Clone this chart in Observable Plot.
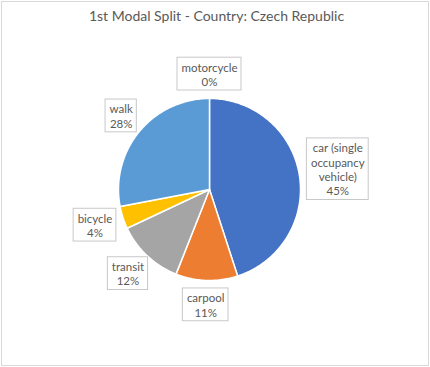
<!DOCTYPE html>
<html>
<head>
<meta charset="utf-8">
<script src="https://cdn.jsdelivr.net/npm/d3@7"></script>
<script src="https://cdn.jsdelivr.net/npm/@observablehq/plot@0.6"></script>
<style>
  html, body { margin: 0; padding: 0; background: #fff; }
  #wrap { position: relative; width: 430px; height: 367px; }
  #border { position: absolute; left: 1px; top: 1px; width: 428px; height: 365px; box-sizing: border-box; border: 1px solid #d9d9d9; pointer-events: none; }
  #chart { position: absolute; left: 0; top: 0; }
</style>
</head>
<body>
<div id="wrap"><div id="chart"></div><div id="border"></div></div>
<script>
const title = "1st Modal Split - Country: Czech Republic";
const categories = ["car (single occupancy vehicle)", "carpool", "transit", "bicycle", "walk", "motorcycle"];
const shares = [45, 11, 12, 4, 28, 0];
const colors = ["#4472C4", "#ED7D31", "#A5A5A5", "#FFC000", "#5B9BD5", "#70AD47"];

const W = 430, H = 367;
const cx = 209, cy = 189, R = 91;
const font = "Lato";
const fs = 11.5, lh = 14.4;
const textColor = "#595959";

function wrap(s, max) {
  const words = s.split(" "); const lines = []; let cur = "";
  for (const w of words) {
    if (!cur) cur = w;
    else if ((cur + " " + w).length <= max) cur += " " + w;
    else { lines.push(cur); cur = w; }
  }
  if (cur) lines.push(cur);
  return lines;
}
const ctx = document.createElement("canvas").getContext("2d");
ctx.font = `${fs}px ${font}`;

const arcs = d3.pie().sort(null).value(d => d.v)(categories.map((c, i) => ({c, v: shares[i]})));
const pt = (a, r) => [cx + r * Math.sin(a), cy - r * Math.cos(a)];

const slicePts = [];
arcs.forEach(a => {
  if (a.endAngle - a.startAngle <= 0) return;
  const [x0, y0] = pt(0, 0);
  slicePts.push({k: a.data.c, x: x0, y: y0});
  const n = Math.max(2, Math.ceil((a.endAngle - a.startAngle) / (Math.PI / 180)));
  for (let j = 0; j <= n; j++) {
    const t = a.startAngle + (a.endAngle - a.startAngle) * j / n;
    const [x, y] = pt(t, R);
    slicePts.push({k: a.data.c, x, y});
  }
  slicePts.push({k: a.data.c, x: x0, y: y0});
});

const padX = 4, padY = 2, gap = 8;
const labels = arcs.map(a => {
  const lines = wrap(a.data.c, 11).concat([Math.round(a.data.v) + "%"]);
  const tw = d3.max(lines, l => ctx.measureText(l).width);
  const w = tw / 2 + padX, h = lines.length * lh / 2 + padY;
  const m = (a.startAngle + a.endAngle) / 2;
  const ux = Math.sin(m), uy = -Math.cos(m);
  const x = cx + (R + gap) * ux + w * ux;
  const y = cy + (R + gap) * uy + h * uy;
  return {text: lines.join("\n"), x, y, x1: x - w, x2: x + w, y1: y - h, y2: y + h};
});

const chart = Plot.plot({
  width: W, height: H,
  margin: 0,
  x: {domain: [0, W], range: [0, W], axis: null},
  y: {domain: [0, H], range: [0, H], axis: null},
  color: {domain: categories, range: colors},
  style: {fontFamily: font, background: "transparent"},
  marks: [
    Plot.line(slicePts, {x: "x", y: "y", z: "k", fill: "k", stroke: "white", strokeWidth: 1.5, curve: "linear"}),
    Plot.rect(labels, {x1: "x1", x2: "x2", y1: "y1", y2: "y2", fill: "white", stroke: "#c8c8c8", strokeWidth: 1}),
    Plot.text(labels, {x: "x", y: "y", text: "text", fill: textColor, fontSize: fs, lineHeight: lh / fs, fontFamily: font}),
    Plot.text([title], {frameAnchor: "top", dy: 11, dx: 1, text: d => d, fill: textColor, fontSize: 14, fontFamily: font})
  ]
});
document.getElementById("chart").appendChild(chart);
</script>
</body>
</html>
